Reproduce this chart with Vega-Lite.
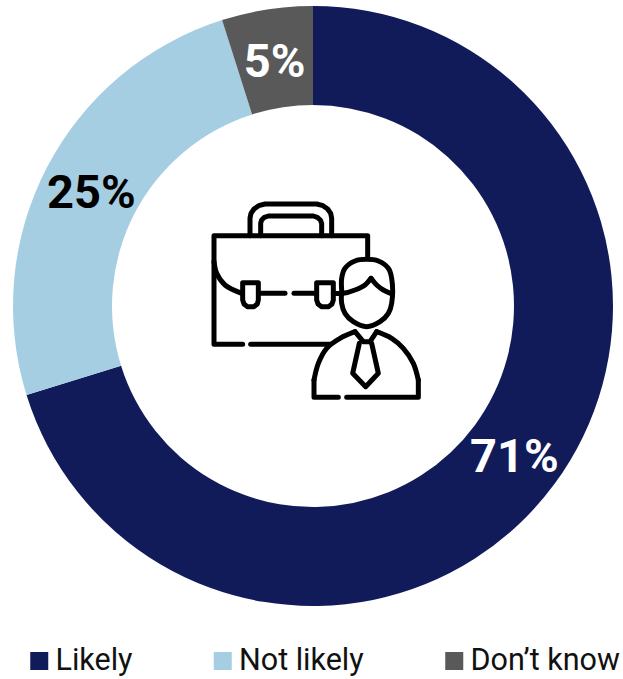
{
"$schema":"https://vega.github.io/schema/vega-lite/v6.json",
"width":620,"height":612,
"autosize":"none",
"padding":{"left":3,"top":0,"right":0,"bottom":67},
"background":"white",
"config":{"view":{"stroke":null}},
"layer":[
{"data":{"name":"slices","values":[
{"name":"Likely","value":70.2,"pos":1,"label":"71%"},
{"name":"Not likely","value":24.9,"pos":2,"label":"25%"},
{"name":"Don’t know","value":4.9,"pos":3,"label":"5%"}]},
"mark":{"type":"arc","radius":300,"radius2":201},
"encoding":{
"theta":{"field":"value","type":"quantitative","stack":true},
"order":{"field":"pos","type":"quantitative"},
"color":{"field":"name","type":"nominal",
"scale":{"domain":["Likely","Not likely","Don’t know"],"range":["#111B5A","#A5CEE3","#595959"]},
"legend":{"title":null,"orient":"none","legendX":21,"legendY":643,"direction":"horizontal","columns":3,"symbolType":"square","symbolSize":324,"symbolStrokeWidth":0,"labelFont":"Roboto","labelFontSize":30.5,"labelColor":"#111111","labelOffset":1,"columnPadding":74.5,"symbolOpacity":1,"labelLimit":300,"clipHeight":36}}
}},
{"data":{"name":"slices"},
"mark":{"type":"text","radius":250,"font":"Roboto","fontWeight":"bold","fontSize":47,"align":"center","baseline":"middle","dy":4},
"encoding":{
"theta":{"field":"value","type":"quantitative","stack":true},
"order":{"field":"pos","type":"quantitative"},
"text":{"field":"label","type":"nominal"},
"color":{"condition":{"test":"datum.name==='Not likely'","value":"#000000"},"value":"#FFFFFF"}
}},
{"data":{"values":[
{"p":"a","i":1,"u":128,"v":463},{"p":"a","i":2,"u":42,"v":463},{"p":"a","i":3,"u":42,"v":137},{"p":"a","i":4,"u":503,"v":137},{"p":"a","i":5,"u":503,"v":205},
{"p":"b","i":1,"u":152,"v":463},{"p":"b","i":2,"u":390,"v":463},
{"p":"c","i":1,"u":150,"v":137},{"p":"c","i":2,"u":150,"v":85},{"p":"c","i":3,"u":153,"v":70},{"p":"c","i":4,"u":162,"v":57},{"p":"c","i":5,"u":176,"v":47},{"p":"c","i":6,"u":195,"v":42},{"p":"c","i":7,"u":350,"v":42},{"p":"c","i":8,"u":369,"v":47},{"p":"c","i":9,"u":383,"v":57},{"p":"c","i":10,"u":392,"v":70},{"p":"c","i":11,"u":395,"v":85},{"p":"c","i":12,"u":395,"v":137},
{"p":"d","i":1,"u":182,"v":137},{"p":"d","i":2,"u":182,"v":100},{"p":"d","i":3,"u":185,"v":90},{"p":"d","i":4,"u":193,"v":82},{"p":"d","i":5,"u":205,"v":78},{"p":"d","i":6,"u":340,"v":78},{"p":"d","i":7,"u":352,"v":82},{"p":"d","i":8,"u":361,"v":90},{"p":"d","i":9,"u":365,"v":100},{"p":"d","i":10,"u":365,"v":137},
{"p":"f","i":1,"u":180,"v":310},{"p":"f","i":2,"u":255,"v":310},
{"p":"g","i":1,"u":282,"v":310},{"p":"g","i":2,"u":345,"v":310},
{"p":"j","i":1,"u":128,"v":278},{"p":"j","i":2,"u":128,"v":330},{"p":"j","i":3,"u":132,"v":342},{"p":"j","i":4,"u":142,"v":350},{"p":"j","i":5,"u":162,"v":350},{"p":"j","i":6,"u":172,"v":342},{"p":"j","i":7,"u":175,"v":330},{"p":"j","i":8,"u":175,"v":278},{"p":"j","i":9,"u":128,"v":278},
{"p":"k","i":1,"u":350,"v":278},{"p":"k","i":2,"u":350,"v":330},{"p":"k","i":3,"u":354,"v":342},{"p":"k","i":4,"u":364,"v":350},{"p":"k","i":5,"u":386,"v":350},{"p":"k","i":6,"u":396,"v":342},{"p":"k","i":7,"u":400,"v":330},{"p":"k","i":8,"u":400,"v":278},{"p":"k","i":9,"u":350,"v":278},
{"p":"n2","i":1,"u":342,"v":570},{"p":"n2","i":2,"u":342,"v":622},{"p":"n2","i":3,"u":415,"v":622},
{"p":"o2","i":1,"u":440,"v":622},{"p":"o2","i":2,"u":655,"v":622},{"p":"o2","i":3,"u":655,"v":570},
{"p":"q","i":1,"u":465,"v":425},{"p":"q","i":2,"u":490,"v":455},{"p":"q","i":3,"u":510,"v":455},{"p":"q","i":4,"u":530,"v":425},
{"p":"r","i":1,"u":478,"v":460},{"p":"r","i":2,"u":458,"v":550},{"p":"r","i":3,"u":497,"v":590},{"p":"r","i":4,"u":535,"v":550},{"p":"r","i":5,"u":515,"v":460}
]},
"mark":{"type":"line","stroke":"#000000","strokeWidth":5,"strokeCap":"round","strokeJoin":"round","interpolate":"linear","clip":false},
"encoding":{
"x":{"field":"u","type":"quantitative","axis":null,"scale":{"domain":[-591,1269],"nice":false,"zero":false}},
"y":{"field":"v","type":"quantitative","axis":null,"scale":{"domain":[1266,-570],"nice":false,"zero":false}},
"detail":{"field":"p","type":"nominal"},
"order":{"field":"i","type":"quantitative"}
}},
{"data":{"values":[
{"p":"e","i":1,"u":42,"v":215},{"p":"e","i":2,"u":50,"v":250},{"p":"e","i":3,"u":75,"v":285},{"p":"e","i":4,"u":125,"v":310},
{"p":"h1","i":1,"u":400,"v":310},{"p":"h1","i":2,"u":430,"v":310},{"p":"h1","i":3,"u":465,"v":300},{"p":"h1","i":4,"u":495,"v":285},{"p":"h1","i":5,"u":513,"v":265},
{"p":"h2","i":1,"u":513,"v":265},{"p":"h2","i":2,"u":530,"v":285},{"p":"h2","i":3,"u":550,"v":300},{"p":"h2","i":4,"u":572,"v":310},
{"p":"m","i":1,"u":425,"v":300},{"p":"m","i":2,"u":425,"v":265},{"p":"m","i":3,"u":435,"v":235},{"p":"m","i":4,"u":465,"v":213},{"p":"m","i":5,"u":500,"v":208},{"p":"m","i":6,"u":535,"v":213},{"p":"m","i":7,"u":565,"v":235},{"p":"m","i":8,"u":575,"v":265},{"p":"m","i":9,"u":575,"v":340},{"p":"m","i":10,"u":565,"v":370},{"p":"m","i":11,"u":540,"v":395},{"p":"m","i":12,"u":500,"v":410},{"p":"m","i":13,"u":460,"v":395},{"p":"m","i":14,"u":435,"v":370},{"p":"m","i":15,"u":425,"v":340},{"p":"m","i":16,"u":425,"v":300},
{"p":"n","i":1,"u":465,"v":425},{"p":"n","i":2,"u":420,"v":445},{"p":"n","i":3,"u":380,"v":475},{"p":"n","i":4,"u":355,"v":520},{"p":"n","i":5,"u":342,"v":570},
{"p":"o","i":1,"u":655,"v":570},{"p":"o","i":2,"u":640,"v":520},{"p":"o","i":3,"u":610,"v":475},{"p":"o","i":4,"u":575,"v":445},{"p":"o","i":5,"u":530,"v":425}
]},
"mark":{"type":"line","stroke":"#000000","strokeWidth":5,"strokeCap":"round","strokeJoin":"round","interpolate":"catmull-rom","clip":false},
"encoding":{
"x":{"field":"u","type":"quantitative","axis":null},
"y":{"field":"v","type":"quantitative","axis":null},
"detail":{"field":"p","type":"nominal"},
"order":{"field":"i","type":"quantitative"}
}}
]
}
